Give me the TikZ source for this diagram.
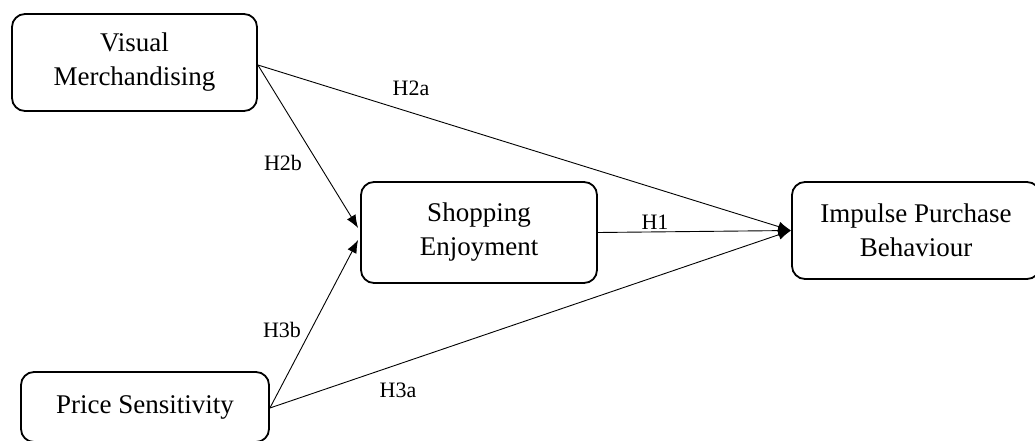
\documentclass[tikz,border=0pt]{standalone}
\usepackage{fontspec}
\setmainfont{Liberation Serif}
\usetikzlibrary{arrows.meta,calc}
\begin{document}
\begin{tikzpicture}[x=1pt,y=-1pt,
  box/.style={draw=black,line width=1.8pt,rounded corners=13pt,align=center,
    font=\fontsize{27}{34}\selectfont,inner sep=0pt},
  arr/.style={line width=0.9pt,-{Latex[length=13pt,width=10pt]}},
  lbl/.style={font=\fontsize{22}{24}\selectfont,inner sep=0pt}]
\clip (0,0) rectangle (1035,441);
\fill[white] (0,0) rectangle (1035,441);
\node[box,minimum width=245pt,minimum height=97pt] (vm) at (134.5,62.5) {Visual\\Merchandising};
\node[box,minimum width=236pt,minimum height=101pt] (se) at (479,232.5) {Shopping\\Enjoyment};
\node[box,minimum width=248pt,minimum height=97pt] (ipb) at (916,230.5) {Impulse Purchase\\Behaviour};
\node[box,minimum width=248pt,minimum height=70pt] (ps) at (145,407) {Price Sensitivity};
\coordinate (vmo) at ($(vm.east)+(0,2.5)$);
\coordinate (seA) at ($(se.west)+(-2,-4.5)$);
\coordinate (seB) at ($(se.west)+(-2,7.5)$);
\coordinate (psO) at ($(ps.east)+(0,1)$);
\draw[arr] (vmo) -- (ipb.west);
\draw[arr] (vmo) -- (seA);
\draw[arr] (psO) -- (seB);
\draw[arr] (psO) -- (ipb.west);
\draw[arr] (se.east) -- (ipb.west);
\node[lbl] (h2a) at (411,88) {H2a};
\node[lbl] (h2b) at (283,163) {H2b};
\node[lbl] (h3b) at (282,330) {H3b};
\node[lbl] (h3a) at (398,390) {H3a};
\node[lbl] (h1) at (655,222) {H1};
\end{tikzpicture}
\end{document}
